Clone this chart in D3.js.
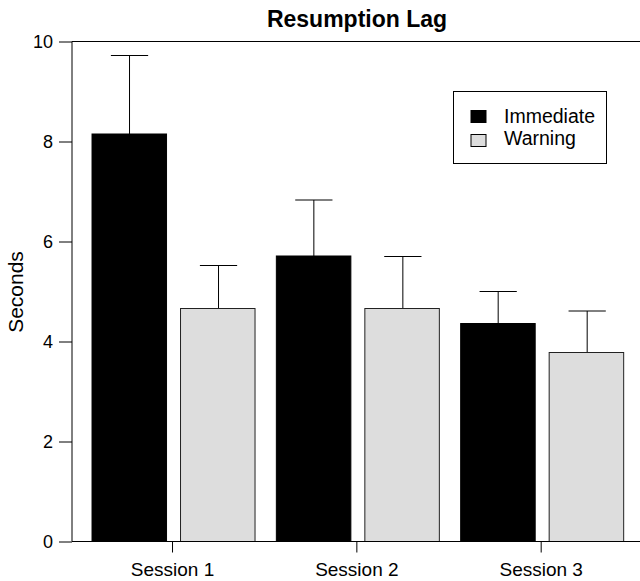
<!DOCTYPE html>
<html><head><meta charset="utf-8">
<script src="https://cdn.jsdelivr.net/npm/d3@7"></script>
<style>body{margin:0;background:#fff}svg{display:block}text{font-family:"Liberation Sans",Arial,sans-serif}</style>
</head><body><svg id="c" width="640" height="581"></svg>
<script>
const sessions = ["Session 1", "Session 2", "Session 3"];
const seriesNames = ["Immediate", "Warning"];
const immediate = [8.15, 5.71, 4.36];
const warning = [4.66, 4.66, 3.78];
const immediateErr = [1.57, 1.12, 0.64];
const warningErr = [0.86, 1.04, 0.83];
const yTicks = [0, 2, 4, 6, 8, 10];
const colors = ["#000000", "#dddddd"];

const svg = d3.select("#c");
const y = d3.scaleLinear().domain([0, 10]).range([541.5, 41.5]);
const x0 = d3.scaleBand().domain(sessions).range([70.7, 645]).paddingInner(0.1157).paddingOuter(0.1157);
const x1 = d3.scaleBand().domain(seriesNames).range([0, x0.bandwidth()]).paddingInner(0.158);

const data = sessions.map((s, i) => ({
  session: s,
  vals: [
    {name: "Immediate", v: immediate[i], e: immediateErr[i], c: colors[0]},
    {name: "Warning", v: warning[i], e: warningErr[i], c: colors[1]}
  ]
}));

const g = svg.append("g");
const groups = g.selectAll("g.grp").data(data).enter().append("g")
  .attr("transform", d => `translate(${x0(d.session)},0)`);

// error bars (upper)
groups.selectAll("g.err").data(d => d.vals).enter().append("g").each(function(d) {
  const cx = Math.round(x1(d.name) + x1.bandwidth() / 2) + 0.5;
  const sel = d3.select(this);
  sel.append("line").attr("x1", cx).attr("x2", cx).attr("y1", y(d.v)).attr("y2", y(d.v + d.e))
    .attr("stroke", "#000").attr("stroke-width", 1);
  sel.append("line").attr("x1", cx - x1.bandwidth() / 4).attr("x2", cx + x1.bandwidth() / 4)
    .attr("y1", y(d.v + d.e)).attr("y2", y(d.v + d.e)).attr("stroke", "#000").attr("stroke-width", 1);
});

groups.selectAll("rect").data(d => d.vals).enter().append("rect")
  .attr("x", d => x1(d.name))
  .attr("width", x1.bandwidth())
  .attr("y", d => y(d.v))
  .attr("height", d => y(0) - y(d.v))
  .attr("fill", d => d.c)
  .attr("stroke", d => d.name === "Warning" ? "#222" : "#000")
  .attr("stroke-width", 1);

// axes
const yAxis = d3.axisLeft(y).tickValues(yTicks).tickSize(13).tickPadding(6).tickFormat(d3.format("d"));
const ya = svg.append("g").attr("transform", "translate(72,0)").call(yAxis);
ya.select(".domain").remove();
ya.selectAll("line").attr("stroke", "#000");
ya.selectAll("text").attr("font-size", 18).attr("fill", "#000");
svg.append("line").attr("x1", 72).attr("x2", 72).attr("y1", y(10)).attr("y2", y(0)).attr("stroke", "#000");

const xAxis = d3.axisBottom(x0).tickSize(11).tickPadding(10);
const xa = svg.append("g").attr("transform", `translate(0,${y(0)})`).call(xAxis);
xa.select(".domain").remove();
xa.selectAll(".tick").attr("transform", d => `translate(${x0(d) + x0.bandwidth() / 2 - 1},0)`);
xa.selectAll("line").attr("stroke", "#000");
xa.selectAll("text").attr("font-size", 19).attr("fill", "#000");

svg.append("line").attr("x1", 72).attr("x2", 640).attr("y1", y(0)).attr("y2", y(0)).attr("stroke", "#000");
svg.append("line").attr("x1", 72).attr("x2", 640).attr("y1", y(10)).attr("y2", y(10)).attr("stroke", "#000");

// title
svg.append("text").attr("x", 357).attr("y", 27).attr("text-anchor", "middle")
  .attr("font-size", 23).attr("font-weight", "bold").text("Resumption Lag");

// y label
svg.append("text").attr("transform", "translate(23,292) rotate(-90)").attr("text-anchor", "middle")
  .attr("font-size", 21).text("Seconds");

// legend
const lg = svg.append("g");
lg.append("rect").attr("x", 453.5).attr("y", 91.5).attr("width", 153).attr("height", 72)
  .attr("fill", "#fff").attr("stroke", "#000");
seriesNames.forEach((n, i) => {
  lg.append("rect").attr("x", 471).attr("y", 110.5 + i * 24).attr("width", 15).attr("height", 12)
    .attr("fill", colors[i]).attr("stroke", "#000");
  lg.append("text").attr("x", 504).attr("y", 123 + i * 22).attr("font-size", 19.5).text(n);
});
</script></body></html>
